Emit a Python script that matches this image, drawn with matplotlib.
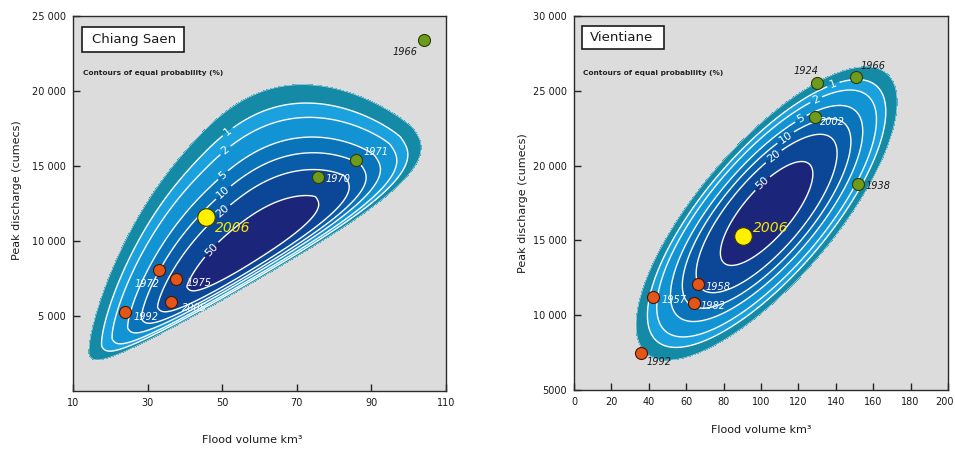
import numpy as np
import matplotlib
matplotlib.use('Agg')
import matplotlib.pyplot as plt
from matplotlib.patches import Rectangle
from matplotlib.transforms import ScaledTranslation

# ---------------- data ----------------
cs_years = ['1966', '1971', '1970', '2006', '1972', '1975', '2005', '1992']
cs_volume = [104.1, 85.8, 75.8, 45.7, 33.1, 37.5, 36.2, 23.9]
cs_peak = [23400, 15400, 14290, 11620, 8070, 7450, 5950, 5290]
cs_kind = ['high', 'high', 'high', 'now', 'low', 'low', 'low', 'low']

vt_years = ['1924', '1966', '2002', '1938', '2006', '1958', '1957', '1982', '1992']
vt_volume = [129.8, 150.8, 128.9, 151.7, 90.5, 66.5, 42.4, 64.2, 35.8]
vt_peak = [25540, 25900, 23270, 18750, 15290, 12060, 11240, 10800, 7490]
vt_kind = ['high', 'high', 'high', 'high', 'now', 'low', 'low', 'low', 'low']

prob_levels = [0.4, 1, 2, 5, 10, 20, 50]          # percent (first = outer edge)
prob_labels = ['1', '2', '5', '10', '20', '50']    # labelled contours

cs_xticks = [10, 30, 50, 70, 90, 110]
cs_yticks = [5000, 10000, 15000, 20000, 25000]
cs_yticklabels = ['5 000', '10 000', '15 000', '20 000', '25 000']
vt_xticks = [0, 20, 40, 60, 80, 100, 120, 140, 160, 180, 200]
vt_yticks = [5000, 10000, 15000, 20000, 25000, 30000]
vt_yticklabels = ['5000', '10 000', '15 000', '20 000', '25 000', '30 000']

# ---------------- probability models (contour surfaces) ----------------
# Chiang Saen: skewed, widening distribution in screen-scaled coordinates
CS_CX, CS_CY = 57.8, 9930.0
CS_THETA = 35.0
CS_G = 0.0022
CS_SS, CS_KS = 68.0, 2.25
CS_WU, CS_KU = 16.5, 1.25
CS_WL, CS_KL = 16.0, 3.0

# Vientiane: bivariate normal
VT_MX, VT_MY = 103.0, 16800.0
VT_SX, VT_SY = 21.0, 2950.0
VT_RHO = 0.76


def cs_density(X, Y):
    u = (X - CS_CX) * 3.73
    v = (Y - CS_CY) * 0.015
    th = np.deg2rad(CS_THETA)
    s = u * np.cos(th) + v * np.sin(th)
    t = -u * np.sin(th) + v * np.cos(th)
    tn = t / np.exp(CS_G * s)
    es = 0.5 * (np.abs(s) / CS_SS) ** CS_KS
    et = np.where(tn > 0, 0.5 * (np.abs(tn) / CS_WU) ** CS_KU,
                  0.5 * (np.abs(tn) / CS_WL) ** CS_KL)
    return np.exp(-(es + et))


def vt_density(X, Y):
    dx = (X - VT_MX) / VT_SX
    dy = (Y - VT_MY) / VT_SY
    r2 = (dx ** 2 - 2 * VT_RHO * dx * dy + dy ** 2) / (1 - VT_RHO ** 2)
    return np.exp(-0.5 * r2)


band_colors = ['#148aa6', '#1ba1de', '#1193d4', '#0a74bb', '#095ca8', '#0b4796', '#1b2579']
levels = [p / 100 for p in prob_levels] + [1.01]

W, H = 955, 450
fig = plt.figure(figsize=(W / 100, H / 100), dpi=100)
fig.patch.set_facecolor('white')


def fx(px):
    return px / W


def fy(py):
    return 1 - py / H


ax1 = fig.add_axes([fx(73), fy(391), 373 / W, 375 / H])
ax2 = fig.add_axes([fx(574), fy(390), 374 / W, 374 / H])

marker_colors = {'high': ('#6f9b1c', '#2c3d06'), 'low': ('#e2561a', '#4a1500'),
                 'now': ('#fff000', '#3a3a00')}
marker_sizes = {'high': 75, 'low': 75, 'now': 160}


def draw_panel(ax, dens, xlim, ylim, xticks, yticks, yticklabels, label_pos,
               years, vol, peak, kind, offsets, white_years):
    ax.set_facecolor('#dcdcdd')
    xs = np.linspace(xlim[0], xlim[1], 500)
    ys = np.linspace(ylim[0], ylim[1], 500)
    X, Y = np.meshgrid(xs, ys)
    F = dens(X, Y)
    ax.contourf(X, Y, F, levels=levels, colors=band_colors, zorder=1)
    ax.contour(X, Y, F, levels=[levels[0]], colors='white', linewidths=0.5,
               alpha=0.7, zorder=2)
    lv = levels[1:-1]
    for lev, txt, pos in zip(lv, prob_labels, label_pos):
        cl = ax.contour(X, Y, F, levels=[lev], colors='white', linewidths=1.0,
                        zorder=2)
        cl.clabel(manual=[pos], fmt={lev: txt}, inline=True,
                  inline_spacing=3, fontsize=8, colors='white')
    for yr, xv, yv, k in zip(years, vol, peak, kind):
        fc, ec = marker_colors[k]
        ax.scatter([xv], [yv], s=marker_sizes[k], c=fc, edgecolors=ec,
                   linewidths=0.8, zorder=5)
        dx, dy = offsets[yr]
        if k == 'now':
            col, fs = '#f6e800', 10
        else:
            col, fs = ('white' if yr in white_years else '#1a1a1a'), 7
        ax.annotate(yr, (xv, yv), xytext=(dx, dy), textcoords='offset points',
                    ha='left', va='center', fontsize=fs, style='italic',
                    color=col, zorder=6)
    ax.set_xlim(*xlim)
    ax.set_ylim(*ylim)
    ax.set_xticks(xticks)
    ax.set_xticklabels([str(v) for v in xticks])
    ax.set_yticks(yticks)
    ax.set_yticklabels(yticklabels)
    ax.tick_params(direction='in', length=5, width=1, labelsize=7, pad=5,
                   color='#222222', labelcolor='#1a1a1a')
    for sp in ax.spines.values():
        sp.set_color('#2a2a2a')
        sp.set_linewidth(1.0)


cs_offsets = {'1966': (-23, -8.4), '1971': (5.5, 6), '1970': (4.8, -1.9),
              '2006': (6.5, -8.1), '1972': (-17.5, -10), '1975': (7.9, -2.4),
              '2005': (7.9, -4.5), '1992': (6, -4)}
vt_offsets = {'1924': (-16.8, 8.4), '1966': (2.9, 8.4), '2002': (3.6, -3.6),
              '1938': (5.3, -1.2), '2006': (7.2, 5.8), '1958': (4.8, -1.7),
              '1957': (6, -2.4), '1982': (4.3, -1.9), '1992': (4.1, -6.5)}

cs_label_pos = [(50.8, 17510), (51.2, 15950), (49.4, 14620), (49.0, 13620),
                (49.0, 12290), (46.3, 9620)]
vt_label_pos = [(137.3, 25900), (128.5, 24650), (120.5, 23310), (111.4, 22200),
                (106.2, 20710), (100.4, 18860)]

draw_panel(ax1, cs_density, (10, 110), (0, 25000), cs_xticks, cs_yticks,
           cs_yticklabels, cs_label_pos, cs_years, cs_volume, cs_peak, cs_kind,
           cs_offsets, {'1971', '1970', '1972', '1975', '2005', '1992'})
draw_panel(ax2, vt_density, (0, 200), (5000, 30000), vt_xticks, vt_yticks,
           vt_yticklabels, vt_label_pos, vt_years, vt_volume, vt_peak, vt_kind,
           vt_offsets, {'2002', '1958', '1957', '1982'})

# keep the last x tick label of the right panel inside the figure
last = ax2.get_xticklabels()[-1]
last.set_transform(last.get_transform() + ScaledTranslation(-0.03, 0, fig.dpi_scale_trans))

# station name boxes
for (x0, y0, x1, y1, tx, name) in [(81.7, 26.7, 184.0, 51.7, 92.0, 'Chiang Saen'),
                                   (581.7, 26.0, 663.7, 49.0, 590.0, 'Vientiane')]:
    fig.add_artist(Rectangle((fx(x0), fy(y1)), (x1 - x0) / W, (y1 - y0) / H,
                             transform=fig.transFigure, facecolor='white',
                             edgecolor='#1a1a1a', linewidth=1.2, zorder=10))
    fig.text(fx(tx), fy((y0 + y1) / 2), name, ha='left', va='center',
             fontsize=9.5, color='#1a1a1a', zorder=11)

for px in (82.7, 583.3):
    fig.text(fx(px), fy(73.3), 'Contours of equal probability (%)', ha='left',
             va='center', fontsize=5.3, fontweight='bold', color='#222222', zorder=11)

fig.text(fx(252), fy(440), 'Flood volume km³', ha='center', va='center', fontsize=8,
         color='#1a1a1a')
fig.text(fx(761), fy(430), 'Flood volume km³', ha='center', va='center', fontsize=8,
         color='#1a1a1a')
fig.text(fx(17.5), fy(190), 'Peak discharge (cumecs)', rotation=90, ha='center',
         va='center', fontsize=8, color='#1a1a1a')
fig.text(fx(523), fy(203), 'Peak discharge (cumecs)', rotation=90, ha='center',
         va='center', fontsize=8, color='#1a1a1a')

fig.savefig('out.png', dpi=100, facecolor='white')
